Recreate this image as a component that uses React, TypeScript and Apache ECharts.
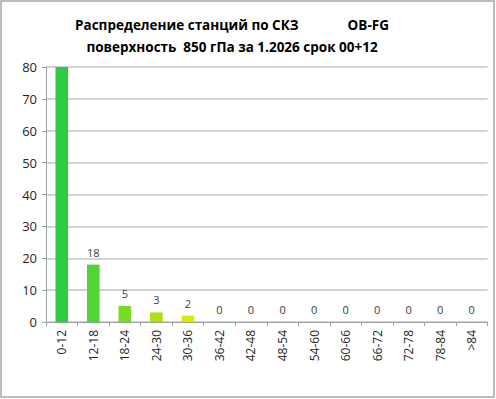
import React, { useEffect, useRef } from "react";
import * as echarts from "echarts";

const categories = ["0-12", "12-18", "18-24", "24-30", "30-36", "36-42", "42-48", "48-54", "54-60", "60-66", "66-72", "72-78", "78-84", ">84"];
const values = [80, 18, 5, 3, 2, 0, 0, 0, 0, 0, 0, 0, 0, 0];
const barColors = ["#2ECC44", "#4FD636", "#78DC22", "#A8E212", "#D6EC02", "#D6EC02", "#D6EC02", "#D6EC02", "#D6EC02", "#D6EC02", "#D6EC02", "#D6EC02", "#D6EC02", "#D6EC02"];
const hiddenLabels = [true, false, false, false, false, false, false, false, false, false, false, false, false, false];
const titleLine1 = "Распределение станций по СКЗ              OB-FG";
const titleLine2 = "поверхность  850 гПа за 1.2026 срок 00+12";
const yTicks = { min: 0, max: 80, interval: 10 };

export default function App() {
  const ref = useRef<HTMLDivElement>(null);
  useEffect(() => {
    if (!ref.current) return;
    const chart = echarts.init(ref.current, undefined, { renderer: "svg" });
    const font = "Open Sans, Noto Sans, sans-serif";
    chart.setOption({
      animation: false,
      backgroundColor: "#ffffff",
      graphic: [
        {
          type: "rect",
          shape: { x: 1, y: 1, width: 493, height: 396 },
          style: { fill: "none", stroke: "#A6A6A6", lineWidth: 1.5 },
        },
      ],
      title: [
        {
          text: titleLine1,
          left: 227,
          top: 13,
          textAlign: "center",
          textStyle: { fontFamily: font, fontSize: 13.5, fontWeight: "bold", color: "#000" },
        },
        {
          text: titleLine2,
          left: 227,
          top: 35,
          textAlign: "center",
          textStyle: { fontFamily: font, fontSize: 13.5, fontWeight: "bold", color: "#000" },
        },
      ],
      grid: { left: 46, right: 8.5, top: 67, bottom: 77, containLabel: false },
      xAxis: {
        type: "category",
        data: categories,
        boundaryGap: true,
        axisLine: { show: true, lineStyle: { color: "#A0A0A0", width: 1 } },
        axisTick: { show: true, length: 4, lineStyle: { color: "#A0A0A0" } },
        axisLabel: {
          rotate: 90,
          interval: 0,
          margin: 8,
          color: "#262626",
          fontFamily: font,
          fontSize: 12,
        },
      },
      yAxis: {
        type: "value",
        min: yTicks.min,
        max: yTicks.max,
        interval: yTicks.interval,
        axisLine: { show: true, lineStyle: { color: "#A0A0A0" } },
        axisTick: { show: true, length: 4, lineStyle: { color: "#A0A0A0" } },
        splitLine: { show: true, lineStyle: { color: "#C4C4C4", width: 1.5 } },
        axisLabel: { color: "#262626", fontFamily: font, fontSize: 13, margin: 9 },
      },
      series: [
        {
          type: "bar",
          barCategoryGap: "60%",
          data: values.map((v, i) => ({
            value: v,
            itemStyle: { color: barColors[i] },
            label: { show: !hiddenLabels[i] },
          })),
          label: {
            show: true,
            position: "top",
            distance: 7,
            color: "#404040",
            fontFamily: font,
            fontSize: 11,
          },
        },
      ],
    });
    return () => chart.dispose();
  }, []);
  return <div ref={ref} style={{ position: "fixed", left: 0, top: 0, width: 496, height: 399 }} />;
}
